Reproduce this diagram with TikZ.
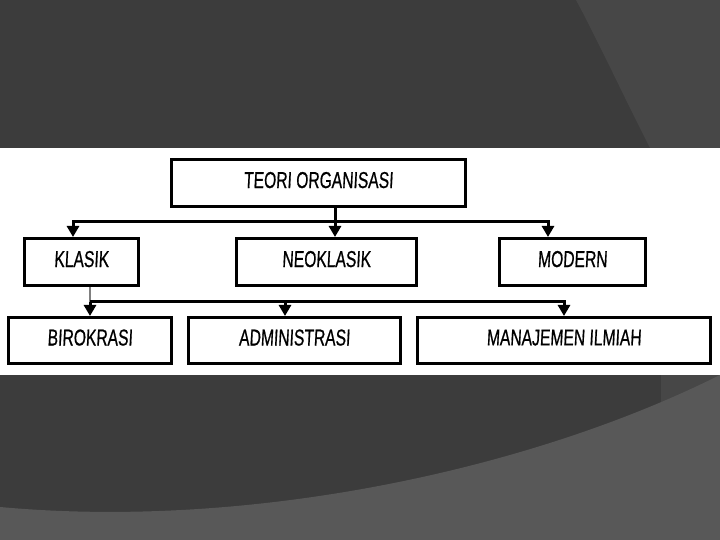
\documentclass[tikz,border=0pt]{standalone}
\usepackage{fontspec}
\newfontfamily\handfont[FakeStretch=0.68,FakeSlant=0.05,FakeBold=0.6]{Liberation Sans}
\usetikzlibrary{arrows.meta, positioning}
\definecolor{bgdark}{HTML}{3C3C3C}
\definecolor{bgmid}{HTML}{474747}
\definecolor{bglight}{HTML}{585858}

\begin{document}
\begin{tikzpicture}[x=1pt, y=1pt,
  box/.style={draw, line width=3pt, fill=white, inner sep=0pt, text depth=6pt,
    font=\handfont\fontsize{23}{23}\selectfont},
  conn/.style={line width=3pt},
  arr/.style={line width=3pt, -{Triangle[length=11pt,width=12pt]}}]
  \useasboundingbox (0,0) rectangle (720,540);

  % Slide background
  \fill[bgdark] (0,0) rectangle (720,540);
  \fill[bgmid] (576,540) .. controls (595,505) and (628,435) .. (650,392) -- (720,392) -- (720,540) -- cycle;
  \fill[bgmid] (661,0) rectangle (720,165);
  \fill[bglight] (0,33) .. controls (250,10) and (530,70) .. (720,165) -- (720,0) -- (0,0) -- cycle;
  \fill[white] (0,165) rectangle (720,392);

  % Boxes
  \node[box, minimum width=294pt, minimum height=47pt] (teori) at (318.5,357) {TEORI ORGANISASI};
  \foreach \name/\x/\w/\txt in {klasik/81.5/114/KLASIK, neoklasik/326.5/180/NEOKLASIK, modern/572.5/146/MODERN} {
    \node[box, minimum width=\w pt, minimum height=47pt] (\name) at (\x,278) {\txt};
  }
  \foreach \name/\x/\w/\txt in {birokrasi/90/163/BIROKRASI, administrasi/294.5/212/ADMINISTRASI, manajemen/564/293/MANAJEMEN ILMIAH} {
    \node[box, minimum width=\w pt, minimum height=46pt] (\name) at (\x,199.5) {\txt};
  }

  % First level
  \coordinate (split) at (335,318);
  \coordinate (barL) at (73,318);
  \coordinate (barR) at (548,318);
  \draw[conn] (teori.south -| split) -- (split);
  \draw[arr] (split) -| (barL |- klasik.north);
  \draw[arr] (split) -| (barR |- modern.north);
  \draw[arr] (split) -- (split |- neoklasik.north);

  % Second level
  \coordinate (lowL) at (90,238);
  \coordinate (lowM) at (285,238);
  \coordinate (lowR) at (564,238);
  \draw[line width=1.5pt, gray] (klasik.south -| lowL) -- (lowL);
  \draw[arr] (lowL) -- (lowL |- birokrasi.north);
  \draw[arr] (lowL) -| (lowR |- manajemen.north);
  \draw[arr] (lowM) -- (lowM |- administrasi.north);
\end{tikzpicture}
\end{document}
